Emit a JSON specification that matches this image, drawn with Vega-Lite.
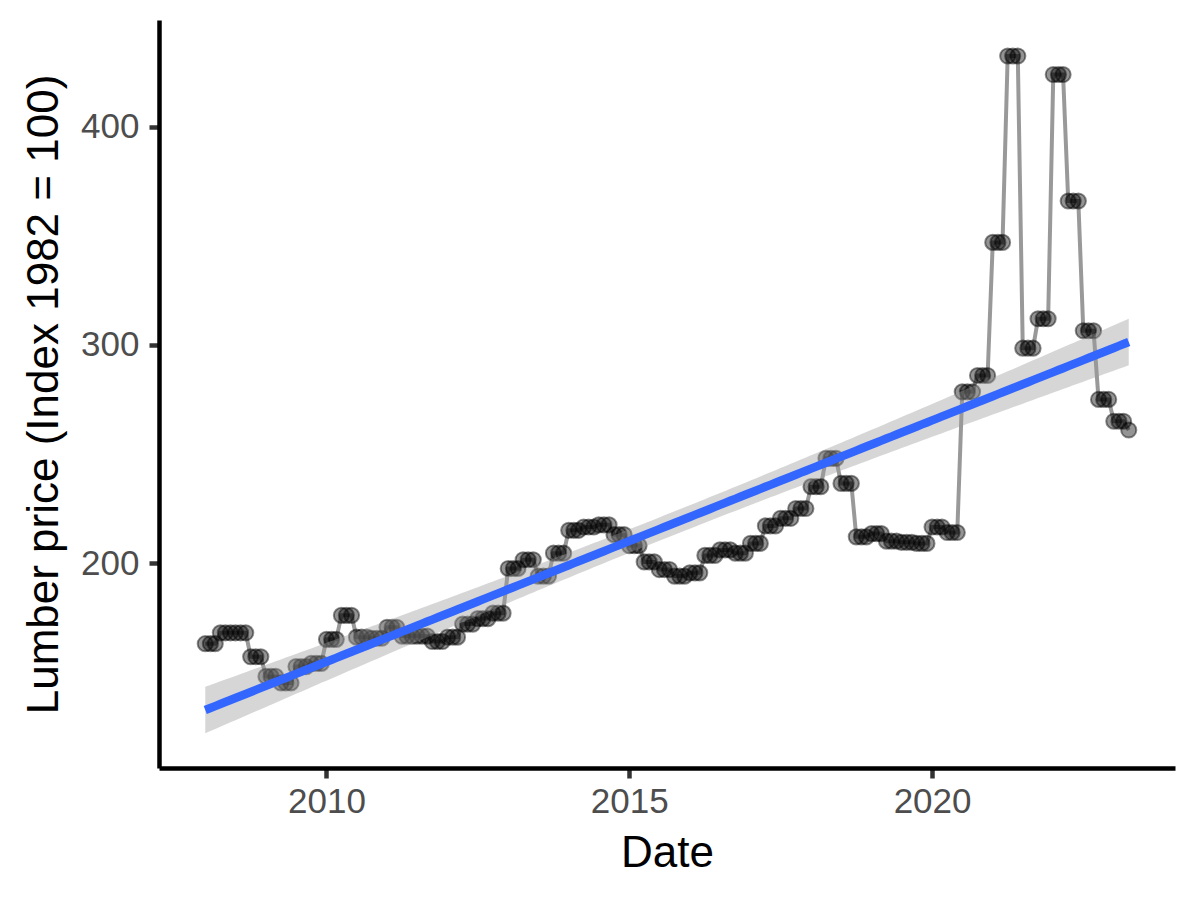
{
  "$schema": "https://vega.github.io/schema/vega-lite/v6.json",
  "autosize": {"type": "none"},
  "padding": {"left": 159, "top": 20, "right": 25, "bottom": 132},
  "width": 1016,
  "height": 748,
  "background": "white",
  "config": {
    "view": {"stroke": null},
    "font": "Liberation Sans",
    "axis": {"grid": false, "labelFont": "Liberation Sans", "titleFont": "Liberation Sans", "titleFontWeight": "normal"}
  },
  "data": {
    "format": {"parse": {"date": "date"}},
    "values": [
      {"date":"2008-01-01","price":163},{"date":"2008-02-01","price":163},{"date":"2008-03-01","price":163},
      {"date":"2008-04-01","price":168},{"date":"2008-05-01","price":168},{"date":"2008-06-01","price":168},
      {"date":"2008-07-01","price":168},{"date":"2008-08-01","price":168},{"date":"2008-09-01","price":168},
      {"date":"2008-10-01","price":157},{"date":"2008-11-01","price":157},{"date":"2008-12-01","price":157},
      {"date":"2009-01-01","price":148},{"date":"2009-02-01","price":148},{"date":"2009-03-01","price":148},
      {"date":"2009-04-01","price":145},{"date":"2009-05-01","price":145},{"date":"2009-06-01","price":145},
      {"date":"2009-07-01","price":152.5},{"date":"2009-08-01","price":152.5},{"date":"2009-09-01","price":152.5},
      {"date":"2009-10-01","price":154},{"date":"2009-11-01","price":154},{"date":"2009-12-01","price":154},
      {"date":"2010-01-01","price":165},{"date":"2010-02-01","price":165},{"date":"2010-03-01","price":165},
      {"date":"2010-04-01","price":176},{"date":"2010-05-01","price":176},{"date":"2010-06-01","price":176},
      {"date":"2010-07-01","price":166},{"date":"2010-08-01","price":166},{"date":"2010-09-01","price":166},
      {"date":"2010-10-01","price":165.5},{"date":"2010-11-01","price":165.5},{"date":"2010-12-01","price":165.5},
      {"date":"2011-01-01","price":170.5},{"date":"2011-02-01","price":170.5},{"date":"2011-03-01","price":170.5},
      {"date":"2011-04-01","price":166.5},{"date":"2011-05-01","price":166.5},{"date":"2011-06-01","price":166.5},
      {"date":"2011-07-01","price":166.5},{"date":"2011-08-01","price":166.5},{"date":"2011-09-01","price":166.5},
      {"date":"2011-10-01","price":164},{"date":"2011-11-01","price":164},{"date":"2011-12-01","price":164},
      {"date":"2012-01-01","price":166},{"date":"2012-02-01","price":166},{"date":"2012-03-01","price":166},
      {"date":"2012-04-01","price":172},{"date":"2012-05-01","price":172},{"date":"2012-06-01","price":172},
      {"date":"2012-07-01","price":174.5},{"date":"2012-08-01","price":174.5},{"date":"2012-09-01","price":174.5},
      {"date":"2012-10-01","price":177},{"date":"2012-11-01","price":177},{"date":"2012-12-01","price":177},
      {"date":"2013-01-01","price":197.5},{"date":"2013-02-01","price":197.5},{"date":"2013-03-01","price":197.5},
      {"date":"2013-04-01","price":201.5},{"date":"2013-05-01","price":201.5},{"date":"2013-06-01","price":201.5},
      {"date":"2013-07-01","price":194},{"date":"2013-08-01","price":194},{"date":"2013-09-01","price":194},
      {"date":"2013-10-01","price":204.5},{"date":"2013-11-01","price":204.5},{"date":"2013-12-01","price":204.5},
      {"date":"2014-01-01","price":215},{"date":"2014-02-01","price":215},{"date":"2014-03-01","price":215},
      {"date":"2014-04-01","price":216.5},{"date":"2014-05-01","price":216.5},{"date":"2014-06-01","price":216.5},
      {"date":"2014-07-01","price":217.5},{"date":"2014-08-01","price":217.5},{"date":"2014-09-01","price":217.5},
      {"date":"2014-10-01","price":213},{"date":"2014-11-01","price":213},{"date":"2014-12-01","price":213},
      {"date":"2015-01-01","price":208},{"date":"2015-02-01","price":208},{"date":"2015-03-01","price":208},
      {"date":"2015-04-01","price":200.5},{"date":"2015-05-01","price":200.5},{"date":"2015-06-01","price":200.5},
      {"date":"2015-07-01","price":197},{"date":"2015-08-01","price":197},{"date":"2015-09-01","price":197},
      {"date":"2015-10-01","price":194},{"date":"2015-11-01","price":194},{"date":"2015-12-01","price":194},
      {"date":"2016-01-01","price":195.5},{"date":"2016-02-01","price":195.5},{"date":"2016-03-01","price":195.5},
      {"date":"2016-04-01","price":203.5},{"date":"2016-05-01","price":203.5},{"date":"2016-06-01","price":203.5},
      {"date":"2016-07-01","price":206},{"date":"2016-08-01","price":206},{"date":"2016-09-01","price":206},
      {"date":"2016-10-01","price":204.5},{"date":"2016-11-01","price":204.5},{"date":"2016-12-01","price":204.5},
      {"date":"2017-01-01","price":209},{"date":"2017-02-01","price":209},{"date":"2017-03-01","price":209},
      {"date":"2017-04-01","price":217},{"date":"2017-05-01","price":217},{"date":"2017-06-01","price":217},
      {"date":"2017-07-01","price":220.5},{"date":"2017-08-01","price":220.5},{"date":"2017-09-01","price":220.5},
      {"date":"2017-10-01","price":225},{"date":"2017-11-01","price":225},{"date":"2017-12-01","price":225},
      {"date":"2018-01-01","price":235},{"date":"2018-02-01","price":235},{"date":"2018-03-01","price":235},
      {"date":"2018-04-01","price":248},{"date":"2018-05-01","price":248},{"date":"2018-06-01","price":248},
      {"date":"2018-07-01","price":236.5},{"date":"2018-08-01","price":236.5},{"date":"2018-09-01","price":236.5},
      {"date":"2018-10-01","price":212},{"date":"2018-11-01","price":212},{"date":"2018-12-01","price":212},
      {"date":"2019-01-01","price":213.5},{"date":"2019-02-01","price":213.5},{"date":"2019-03-01","price":213.5},
      {"date":"2019-04-01","price":210},{"date":"2019-05-01","price":210},{"date":"2019-06-01","price":210},
      {"date":"2019-07-01","price":209.5},{"date":"2019-08-01","price":209.5},{"date":"2019-09-01","price":209.5},
      {"date":"2019-10-01","price":209},{"date":"2019-11-01","price":209},{"date":"2019-12-01","price":209},
      {"date":"2020-01-01","price":216.5},{"date":"2020-02-01","price":216.5},{"date":"2020-03-01","price":216.5},
      {"date":"2020-04-01","price":214},{"date":"2020-05-01","price":214},{"date":"2020-06-01","price":214},
      {"date":"2020-07-01","price":278.5},{"date":"2020-08-01","price":278.5},{"date":"2020-09-01","price":278.5},
      {"date":"2020-10-01","price":286},{"date":"2020-11-01","price":286},{"date":"2020-12-01","price":286},
      {"date":"2021-01-01","price":347},{"date":"2021-02-01","price":347},{"date":"2021-03-01","price":347},
      {"date":"2021-04-01","price":432.5},{"date":"2021-05-01","price":432.5},{"date":"2021-06-01","price":432.5},
      {"date":"2021-07-01","price":298.5},{"date":"2021-08-01","price":298.5},{"date":"2021-09-01","price":298.5},
      {"date":"2021-10-01","price":312},{"date":"2021-11-01","price":312},{"date":"2021-12-01","price":312},
      {"date":"2022-01-01","price":424},{"date":"2022-02-01","price":424},{"date":"2022-03-01","price":424},
      {"date":"2022-04-01","price":366},{"date":"2022-05-01","price":366},{"date":"2022-06-01","price":366},
      {"date":"2022-07-01","price":306.5},{"date":"2022-08-01","price":306.5},{"date":"2022-09-01","price":306.5},
      {"date":"2022-10-01","price":275},{"date":"2022-11-01","price":275},{"date":"2022-12-01","price":275},
      {"date":"2023-01-01","price":265},{"date":"2023-02-01","price":265},{"date":"2023-03-01","price":265},
      {"date":"2023-04-01","price":261}
    ]
  },
  "transform": [
    {"calculate": "time(datum.date)/31557600000", "as": "t"},
    {"joinaggregate": [{"op": "mean", "field": "t", "as": "tm"}, {"op": "mean", "field": "price", "as": "pm"}, {"op": "count", "as": "n"}]},
    {"calculate": "(datum.t-datum.tm)*(datum.t-datum.tm)", "as": "dxx"},
    {"calculate": "(datum.t-datum.tm)*(datum.price-datum.pm)", "as": "dxy"},
    {"joinaggregate": [{"op": "sum", "field": "dxx", "as": "sxx"}, {"op": "sum", "field": "dxy", "as": "sxy"}]},
    {"calculate": "datum.pm + datum.sxy/datum.sxx*(datum.t-datum.tm)", "as": "fit"},
    {"calculate": "pow(datum.price-datum.fit,2)", "as": "r2"},
    {"joinaggregate": [{"op": "sum", "field": "r2", "as": "sse"}]},
    {"calculate": "1.973*sqrt(datum.sse/(datum.n-2))*sqrt(1/datum.n + datum.dxx/datum.sxx)", "as": "me"},
    {"calculate": "datum.fit-datum.me", "as": "lo"},
    {"calculate": "datum.fit+datum.me", "as": "hi"}
  ],
  "encoding": {
    "x": {
      "field": "date", "type": "temporal",
      "scale": {"domain": [{"year": 2007, "month": 3, "date": 28}, {"year": 2024, "month": 1, "date": 5}]},
      "axis": {
        "title": "Date",
        "values": [{"year": 2010, "month": 1, "date": 1}, {"year": 2015, "month": 1, "date": 1}, {"year": 2020, "month": 1, "date": 1}],
        "format": "%Y",
        "domainColor": "black", "domainWidth": 4.5,
        "tickColor": "#333333", "tickWidth": 4.5, "tickSize": 10,
        "labelColor": "#4D4D4D", "labelFontSize": 35, "labelPadding": 6,
        "titleColor": "black", "titleFontSize": 44, "titlePadding": 12
      }
    }
  },
  "layer": [
    {
      "mark": {"type": "line", "color": "black", "opacity": 0.4, "strokeWidth": 4},
      "encoding": {
        "y": {
          "field": "price", "type": "quantitative",
          "scale": {"domain": [106, 449], "nice": false, "zero": false},
          "axis": {
            "title": "Lumber price (Index 1982 = 100)",
            "values": [200, 300, 400],
            "domainColor": "black", "domainWidth": 4.5,
            "tickColor": "#333333", "tickWidth": 4.5, "tickSize": 10,
            "labelColor": "#4D4D4D", "labelFontSize": 35, "labelPadding": 10,
            "titleColor": "black", "titleFontSize": 44, "titlePadding": 14
          }
        }
      }
    },
    {
      "mark": {"type": "point", "shape": "circle", "filled": false, "fill": "black", "fillOpacity": 0.42, "stroke": "black", "strokeOpacity": 0.45, "strokeWidth": 2, "size": 230},
      "encoding": {"y": {"field": "price", "type": "quantitative"}}
    },
    {
      "mark": {"type": "area", "color": "#999999", "opacity": 0.4},
      "encoding": {"y": {"field": "lo", "type": "quantitative"}, "y2": {"field": "hi"}}
    },
    {
      "mark": {"type": "line", "color": "#3366FF", "strokeWidth": 8.5},
      "encoding": {"y": {"field": "fit", "type": "quantitative"}}
    }
  ]
}
